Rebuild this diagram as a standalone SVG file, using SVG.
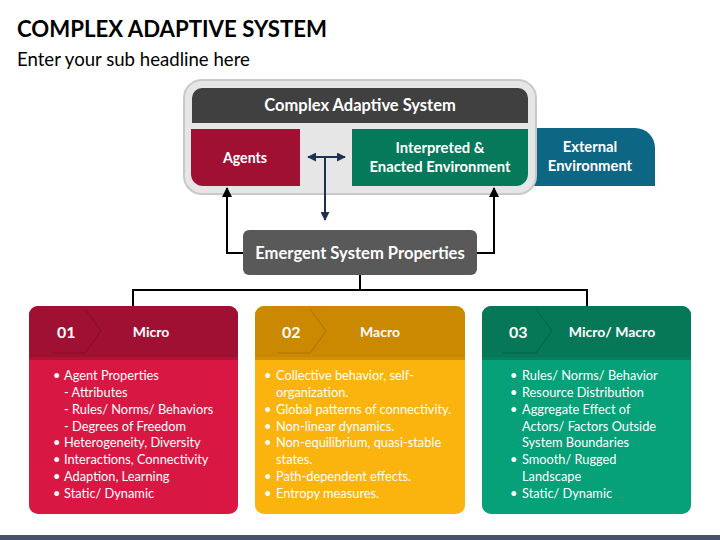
<svg xmlns="http://www.w3.org/2000/svg" width="720" height="540" viewBox="0 0 720 540">
<defs>
<style>
text{font-family:Lato,"Open Sans","Liberation Sans",sans-serif;}
.w{fill:#fff;font-weight:bold;}
.c{text-anchor:middle;}
.b{fill:#fff;font-size:12.8px;}
.ln{fill:none;stroke:#000;stroke-width:2;}
.nv{fill:none;stroke:#1f3050;stroke-width:2;}
</style>
<marker id="ab" viewBox="0 0 10 10" refX="9" refY="5" markerWidth="5" markerHeight="5" orient="auto-start-reverse"><path d="M0,0L10,5L0,10z" fill="#000"/></marker>
<marker id="an" viewBox="0 0 10 10" refX="9" refY="5" markerWidth="4.5" markerHeight="4.5" orient="auto-start-reverse"><path d="M0,0L10,5L0,10z" fill="#1f3050"/></marker>
</defs>
<rect width="720" height="540" fill="#fff"/>
<text x="17" y="37" font-size="22.2" font-weight="bold" fill="#000">COMPLEX ADAPTIVE SYSTEM</text>
<text x="17" y="66" font-size="18.6" fill="#000">Enter your sub headline here</text>

<g id="external">
<path d="M480,128H635a20,20 0 0 1 20,20V186H480z" fill="#0e6685"/>
<text class="w c" x="590" y="152" font-size="14.8">External</text>
<text class="w c" x="590" y="171" font-size="14.8">Environment</text>
</g>
<g id="cas">
<rect x="184" y="80" width="352" height="114" rx="18" fill="#e6e6e6" stroke="#c9c9c9" stroke-width="2"/>
<path d="M202,88H518a10,10 0 0 1 10,10V123H192V98a10,10 0 0 1 10,-10z" fill="#404040"/>
<text class="w c" x="360" y="111" font-size="16.5">Complex Adaptive System</text>
</g>
<g id="agents">
<path d="M191,129H300V186H203a12,12 0 0 1 -12,-12z" fill="#a01032"/>
<text class="w c" x="245" y="163" font-size="14.2">Agents</text>
</g>
<g id="environment">
<path d="M352,129H528V174a12,12 0 0 1 -12,12H352z" fill="#06795a"/>
<text class="w c" x="440" y="153" font-size="14.8">Interpreted &amp;</text>
<text class="w c" x="440" y="172" font-size="14.8">Enacted Environment</text>
</g>
<g id="emergent">
<rect x="243" y="230" width="234" height="45" rx="6" fill="#595959"/>
<text class="w c" x="360" y="259" font-size="16.6">Emergent System Properties</text>
</g>

<g id="connectors">
<path class="nv" d="M308,157H345" marker-start="url(#an)" marker-end="url(#an)"/>
<path class="nv" d="M325,157V220" marker-end="url(#an)"/>
<path class="ln" d="M243,253H227V188" marker-end="url(#ab)"/>
<path class="ln" d="M477,253H494V188" marker-end="url(#ab)"/>
<path class="ln" d="M360,275V290M133,290H587M133,289V306M587,289V306"/>
</g>

<g id="card1">
<rect x="29" y="306" width="209" height="208" rx="9" fill="#d81843"/>
<path d="M38,306H229a9,9 0 0 1 9,9V357H29V315a9,9 0 0 1 9,-9z" fill="#a01032"/>
<rect x="29" y="357" width="209" height="3" fill="#8a0d2a" opacity="0.5"/>
<polyline points="85,309 101,331 85,353 52,353" fill="none" stroke="#7d0c26" stroke-width="1.2" stroke-opacity="0.6"/>
<text class="w" x="57" y="338" font-size="16">01</text>
<text class="w c" x="151" y="337" font-size="14">Micro</text>
<g class="b">
<text x="53" y="380">•</text><text x="64" y="380">Agent Properties</text>
<text x="64" y="397">- Attributes</text>
<text x="64" y="414">- Rules/ Norms/ Behaviors</text>
<text x="64" y="431">- Degrees of Freedom</text>
<text x="53" y="447">•</text><text x="64" y="447">Heterogeneity, Diversity</text>
<text x="53" y="464">•</text><text x="64" y="464">Interactions, Connectivity</text>
<text x="53" y="481">•</text><text x="64" y="481">Adaption, Learning</text>
<text x="53" y="498">•</text><text x="64" y="498">Static/ Dynamic</text>
</g>
</g>

<g id="card2">
<rect x="255" y="306" width="210" height="208" rx="9" fill="#fbb30d"/>
<path d="M264,306H456a9,9 0 0 1 9,9V357H255V315a9,9 0 0 1 9,-9z" fill="#ca8900"/>
<rect x="255" y="357" width="210" height="3" fill="#a87000" opacity="0.5"/>
<polyline points="310,309 326,331 310,353 277,353" fill="none" stroke="#9c6a00" stroke-width="1.2" stroke-opacity="0.6"/>
<text class="w" x="282" y="338" font-size="16">02</text>
<text class="w c" x="380" y="337" font-size="14">Macro</text>
<g class="b">
<text x="264" y="380">•</text><text x="276" y="380">Collective behavior, self-</text>
<text x="276" y="397">organization.</text>
<text x="264" y="414">•</text><text x="276" y="414">Global patterns of connectivity.</text>
<text x="264" y="431">•</text><text x="276" y="431">Non-linear dynamics.</text>
<text x="264" y="447">•</text><text x="276" y="447">Non-equilibrium, quasi-stable</text>
<text x="276" y="464">states.</text>
<text x="264" y="481">•</text><text x="276" y="481">Path-dependent effects.</text>
<text x="264" y="498">•</text><text x="276" y="498">Entropy measures.</text>
</g>
</g>

<g id="card3">
<rect x="482" y="306" width="209" height="208" rx="9" fill="#06a079"/>
<path d="M491,306H682a9,9 0 0 1 9,9V357H482V315a9,9 0 0 1 9,-9z" fill="#067858"/>
<rect x="482" y="357" width="209" height="3" fill="#055e45" opacity="0.5"/>
<polyline points="536,309 552,331 536,353 502,353" fill="none" stroke="#045a42" stroke-width="1.2" stroke-opacity="0.6"/>
<text class="w" x="509" y="338" font-size="16">03</text>
<text class="w c" x="612" y="337" font-size="14">Micro/ Macro</text>
<g class="b">
<text x="510" y="380">•</text><text x="522" y="380">Rules/ Norms/ Behavior</text>
<text x="510" y="397">•</text><text x="522" y="397">Resource Distribution</text>
<text x="510" y="414">•</text><text x="522" y="414">Aggregate Effect of</text>
<text x="522" y="431">Actors/ Factors Outside</text>
<text x="522" y="447">System Boundaries</text>
<text x="510" y="464">•</text><text x="522" y="464">Smooth/ Rugged</text>
<text x="522" y="481">Landscape</text>
<text x="510" y="498">•</text><text x="522" y="498">Static/ Dynamic</text>
</g>
</g>

<rect x="0" y="535" width="720" height="5" fill="#44546a"/>
</svg>
